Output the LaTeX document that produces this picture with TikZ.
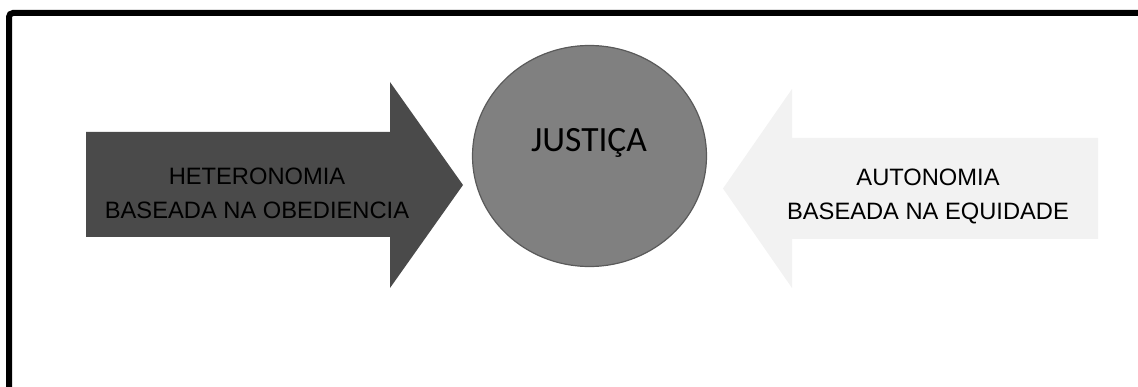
\documentclass[tikz,border=0pt]{standalone}
\usepackage{fontspec}
\setmainfont{Liberation Sans}
\newfontfamily\justfont{Carlito}
\usepackage{tikz}
\usetikzlibrary{positioning,shapes.geometric}
\definecolor{arrdark}{HTML}{4A4A4A}
\definecolor{arrlight}{HTML}{F2F2F2}
\definecolor{circfill}{HTML}{808080}
\definecolor{circline}{HTML}{5A5A5A}

\begin{document}
\begin{tikzpicture}[
  x=1pt, y=-1pt,
  lbl/.style={align=center, font=\fontsize{23.7}{34}\selectfont, inner sep=0pt},
  frame/.style={line width=6pt, rounded corners=4pt}
]
  \useasboundingbox (0,0) rectangle (1138,387);
  \clip (0,0) rectangle (1138,387);
  % outer frame
  \draw[frame] (9,400) -- (9,13) -- (1160,13);
  % arrows
  \fill[arrdark] (86,132) -- (390,132) -- (390,82) -- (463,185)
    -- (390,288) -- (390,237) -- (86,237) -- cycle;
  \fill[arrlight] (1098,138) -- (792,138) -- (792,89) -- (723,188.5)
    -- (792,288) -- (792,239) -- (1098,239) -- cycle;
  % circle
  \node[ellipse, draw=circline, line width=1.2pt, fill=circfill,
        minimum width=234pt, minimum height=221pt, inner sep=0pt]
        (just) at (589.5,156) {};
  \node[font=\justfont\fontsize{35.5}{40}\selectfont, inner sep=0pt,
        anchor=base] (justlbl) at (589,152) {JUSTIÇA};
  % labels
  \node[lbl] (het) at (257,193) {HETERONOMIA\\BASEADA NA OBEDIENCIA};
  \node[lbl] (aut) at (928,196) {AUTONOMIA\\BASEADA NA EQUIDADE};
\end{tikzpicture}
\end{document}
